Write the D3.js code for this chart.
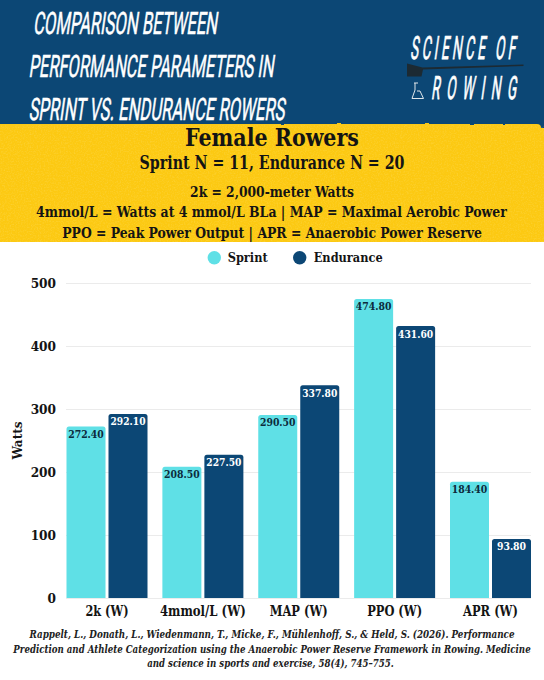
<!DOCTYPE html>
<html><head><meta charset="utf-8">
<script src="https://cdn.jsdelivr.net/npm/d3@7"></script>
<style>html,body{margin:0;padding:0;background:#fff}svg{display:block}</style></head>
<body><svg id="c" width="544" height="680"></svg>
<script>
const categories=["2k (W)","4mmol/L (W)","MAP (W)","PPO (W)","APR (W)"];
const seriesNames=["Sprint","Endurance"];
const sprintValues=[272.4,208.5,290.5,474.8,184.4];
const enduranceValues=[292.1,227.5,337.8,431.6,93.8];
const yTicks=[0,100,200,300,400,500];
const titleLines=["COMPARISON BETWEEN","PERFORMANCE PARAMETERS IN","SPRINT VS. ENDURANCE ROWERS"];
const infoLines=["2k = 2,000-meter Watts","4mmol/L = Watts at 4 mmol/L BLa | MAP = Maximal Aerobic Power","PPO = Peak Power Output | APR = Anaerobic Power Reserve"];
const citationLines=["Rappelt, L., Donath, L., Wiedenmann, T., Micke, F., Mühlenhoff, S., & Held, S. (2026). Performance","Prediction and Athlete Categorization using the Anaerobic Power Reserve Framework in Rowing. Medicine","and science in sports and exercise, 58(4), 745–755."];

const NAVY="#0c4775",CYAN="#5fe0e6",YEL="#fcc912",INK="#141414";
const SERIF="'DejaVu Serif Condensed','DejaVu Serif',serif";
const svg=d3.select("#c");
const defs=svg.append("defs");
const rough=defs.append("filter").attr("id","rough").attr("x","-2%").attr("y","-40%").attr("width","104%").attr("height","180%");
rough.append("feTurbulence").attr("type","fractalNoise").attr("baseFrequency","0.09").attr("numOctaves",2).attr("seed",4);
rough.append("feDisplacementMap").attr("in","SourceGraphic").attr("scale",2).attr("xChannelSelector","R").attr("yChannelSelector","G");
const speck=defs.append("filter").attr("id","speck").attr("x",0).attr("y",0).attr("width","100%").attr("height","100%");
speck.append("feTurbulence").attr("type","fractalNoise").attr("baseFrequency","0.7").attr("numOctaves",2).attr("seed",7);
speck.append("feColorMatrix").attr("values","0 0 0 0 1  0 0 0 0 0.93  0 0 0 0 0.55  0 0 0 1.4 -0.62");

// Fit text to a measured width by scaling it horizontally.
function T(x,y,s,size,o={}){
  const t=svg.append("text").text(s)
   .attr("font-family",o.family||SERIF).attr("font-size",size)
   .attr("font-weight",o.weight||"bold").attr("fill",o.fill||INK)
   .attr("text-anchor",o.anchor||"middle");
  if(o.style)t.attr("font-style",o.style);
  const k=o.width?o.width/t.node().getComputedTextLength():1;
  t.attr("transform",`translate(${x},${y}) ${o.transform||""} scale(${k},1)`);
  return t;
}
// bands
svg.append("rect").attr("width",544).attr("height",680).attr("fill","#fff");
svg.append("rect").attr("width",544).attr("height",128).attr("fill",NAVY);
svg.append("rect").attr("x",-6).attr("y",124).attr("width",547).attr("height",12).attr("rx",4).attr("fill",YEL).attr("filter","url(#rough)");
svg.append("rect").attr("y",128).attr("width",544).attr("height",114).attr("fill",YEL);
svg.append("rect").attr("y",125).attr("width",544).attr("height",117).attr("fill","#fff").attr("filter","url(#speck)").attr("opacity",.28);

// title
const NARROW="'Liberation Sans Narrow','Roboto',sans-serif";
const tx=[33,28.5,28.5],ty=[34,77.3,120],tw=[184,245,256];
titleLines.forEach((s,i)=>{
  T(tx[i],ty[i],s,31,{family:NARROW,weight:"normal",fill:"#fff",anchor:"start",width:tw[i],transform:"skewX(-8)"})
   .attr("stroke","#fff").attr("stroke-width",.55);
});
// logo
function spaced(x,y,s,w,size){
  const t=svg.append("text").text(s).attr("font-family",NARROW).attr("font-size",size).attr("fill","#fff");
  const k=.42,n=t.node().getComputedTextLength();
  t.attr("letter-spacing",(w/k-n)/(s.length-1)).attr("stroke","#fff").attr("stroke-width",.8)
   .attr("transform",`translate(${x},${y}) skewX(-8) scale(${k},1)`);
}
spaced(410,59,"SCIENCE OF",105,32);
spaced(431,99.3,"ROWING",85,32);
svg.append("path").attr("d","M407 63.5 L422.5 67.5 L523.5 64.5 L523.5 66 L423 69.5 L421.5 76.5 L407 76.5 Z").attr("fill","#1c2a33");
svg.append("path").attr("d","M414 83 L418 83 M415 83 L415 90 L412 98.5 L423.5 98.5 L420 91 L417 91").attr("fill","none").attr("stroke","#dfe6ea").attr("stroke-width",1);

// yellow text
T(272,146,"Female Rowers",23.5,{width:174});
T(272,169,"Sprint N = 11, Endurance N = 20",18,{width:265});
T(272,197,infoLines[0],14,{width:164});
T(271.5,217.3,infoLines[1],14,{width:471});
T(272,238,infoLines[2],14,{width:420});

// legend
const color=d3.scaleOrdinal().domain(seriesNames).range([CYAN,NAVY]);
const legX=[214.3,299.7],legTx=[227.7,313.7],legW=[40,69];
seriesNames.forEach((n,i)=>{
  svg.append("circle").attr("cx",legX[i]).attr("cy",257.7).attr("r",6.7).attr("fill",color(n));
  T(legTx[i],262,n,13.5,{anchor:"start",width:legW[i]});
});

// chart
const x=d3.scalePoint().domain(categories).range([107,490.5]);
const gap=3,bw=39;
const y=d3.scaleLinear().domain([0,500]).range([598,283]);
const grid=svg.append("g");
grid.call(d3.axisLeft(y).tickValues(yTicks).tickSize(-465).tickFormat("").tickPadding(0)).attr("transform","translate(66,0)");
grid.select(".domain").remove();
grid.selectAll("line").attr("stroke","#ebebeb").attr("stroke-width",1);

function bar(cx,w,h){ // rounded top corners
  const r=2.5,top=y(h),base=y(0);
  return `M${cx} ${base}V${top+r}Q${cx} ${top} ${cx+r} ${top}H${cx+w-r}Q${cx+w} ${top} ${cx+w} ${top+r}V${base}Z`;
}
const rows=categories.map((c,i)=>({c,s:sprintValues[i],e:enduranceValues[i]}));
const g=svg.append("g").selectAll("g").data(rows).join("g");
g.append("path").attr("d",d=>bar(x(d.c)-gap/2-bw,bw,d.s)).attr("fill",CYAN);
g.append("path").attr("d",d=>bar(x(d.c)+gap/2,bw,d.e)).attr("fill",NAVY);
const fmt=d3.format(".2f");
rows.forEach(d=>{
  const a=fmt(d.s),b=fmt(d.e);
  T(x(d.c)-gap/2-bw/2,y(d.s)+11.5,a,11.5,{width:a.length*5.95,fill:"#0c2b3c"});
  T(x(d.c)+gap/2+bw/2,y(d.e)+11.5,b,11.5,{width:b.length*5.85,fill:"#fff"});
});
// axes
const xA=svg.append("g").attr("transform","translate(0,598)").call(d3.axisBottom(x).tickSize(0).tickPadding(0));
xA.select(".domain").remove();
const xW=[43,86,58,55,55];
xA.selectAll("text").remove();
categories.forEach((c,i)=>T(x(c),616,c,14,{width:xW[i]}));
const yA=svg.append("g").attr("transform","translate(56,0)").call(d3.axisLeft(y).tickValues(yTicks).tickSize(0).tickPadding(0));
yA.select(".domain").remove();
yA.selectAll("text").attr("font-family",SERIF).attr("font-weight","bold").attr("font-size",13.5).attr("fill",INK);
T(22,440.5,"Watts",13.5,{width:38,transform:"rotate(-90)"});

// citation
const cy=[638,652.7,667],cw=[486,518,247];
citationLines.forEach((s,i)=>T(i==2?270.5:272,cy[i],s,11,{style:"italic",width:cw[i],fill:"#222"}));
</script></body></html>
